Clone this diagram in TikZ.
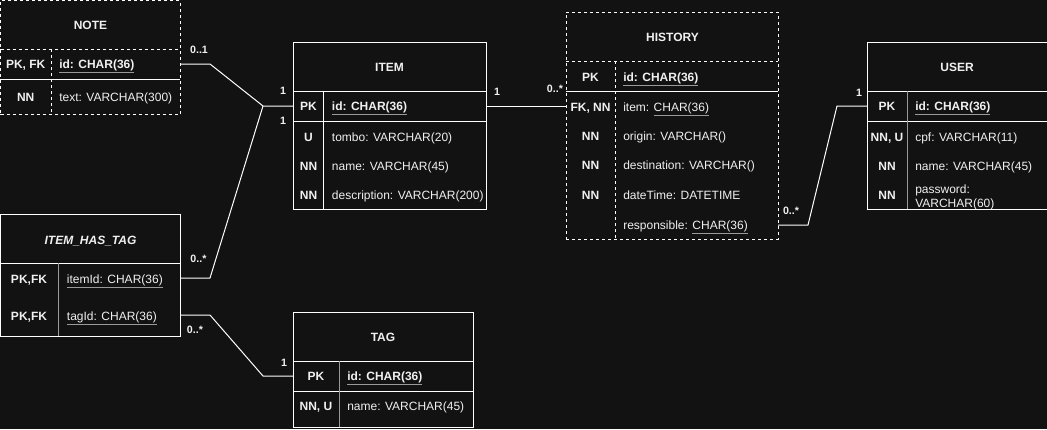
\documentclass[tikz,border=0pt]{standalone}
\usepackage{fontspec}
\setmainfont{Liberation Sans}
\usetikzlibrary{fit}
\definecolor{bg}{HTML}{121212}
\definecolor{fg}{HTML}{F0F0F0}
\definecolor{ln}{HTML}{FFFFFF}
\definecolor{lg}{HTML}{9A9A9A}
\definecolor{ulg}{HTML}{9A9A9A}
\newcommand\ulx[1]{\textcolor{ulg}{\underline{\textcolor{fg}{#1}}}}
\begin{document}
\begin{tikzpicture}[x=0.75pt,y=-0.75pt,
 txt/.style={text=fg, inner sep=0pt, text height=6.5pt, text depth=0pt, font=\fontsize{9}{11}\selectfont},
 ttl/.style={txt, font=\fontsize{9}{11}\selectfont\bfseries},
 keyc/.style={txt, font=\fontsize{9}{11}\selectfont\bfseries},
 fld/.style={txt, anchor=west},
 pkf/.style={fld, font=\fontsize{9}{11}\selectfont\bfseries},
 card/.style={txt, font=\fontsize{8}{10}\selectfont\bfseries, text height=5.8pt},
 tbl/.style={draw=ln, line width=0.75pt, inner sep=0pt, outer sep=0pt},
 dtbl/.style={tbl, dash pattern=on 2.25pt off 2.25pt},
 rowf/.style={inner sep=0pt, outer sep=0pt},
 hline/.style={draw=ln, line width=0.75pt},
 dline/.style={hline, dash pattern=on 2.25pt off 2.25pt},
 gline/.style={draw=lg, line width=0.75pt},
 conn/.style={draw=ln, line width=0.75pt}]
\fill[bg] (0,0) rectangle (1047,429);
\useasboundingbox (0,0) rectangle (1047,429);

% ---------- NOTE ----------
\node[dtbl, fit={(0.5,0.5)(180,114)}] (note) {};
\node[rowf, fit={(0.5,49)(180,79)}] (note-id) {};
\draw[dline] (0.5,49) -- (180,49);
\draw[hline] (0.5,79) -- (180,79);
\draw[dline] (51,49) -- (51,114);
\node[ttl] (note-t) at (90.5,25) {NOTE};
\node[keyc] (note-k1) at (25.7,64) {PK, FK};
\node[keyc] (note-k2) at (25.7,97) {NN};
\node[pkf] (note-f1) at (59,64) {\ulx{id: CHAR(36)}};
\node[fld] (note-f2) at (59,97) {text: VARCHAR(300)};

% ---------- ITEM ----------
\node[tbl, fit={(293,42)(486,209)}] (item) {};
\node[rowf, fit={(293,91)(486,121)}] (item-id) {};
\draw[hline] (293,91) -- (486,91);
\draw[hline] (293,121) -- (486,121);
\draw[hline] (323.7,91) -- (323.7,209);
\node[ttl] (item-t) at (389.5,67) {ITEM};
\node[keyc] (item-k1) at (308.5,106) {PK};
\node[keyc] (item-k2) at (308.5,137) {U};
\node[keyc] (item-k3) at (308.5,166) {NN};
\node[keyc] (item-k4) at (308.5,195) {NN};
\node[pkf] (item-f1) at (331.7,106) {\ulx{id: CHAR(36)}};
\node[fld] (item-f2) at (331.7,137) {tombo: VARCHAR(20)};
\node[fld] (item-f3) at (331.7,166) {name: VARCHAR(45)};
\node[fld] (item-f4) at (331.7,195) {description: VARCHAR(200)};

% ---------- HISTORY ----------
\node[dtbl, fit={(566,12)(778,239)}] (hist) {};
\node[rowf, fit={(566,91)(778,121)}] (hist-item) {};
\node[rowf, fit={(566,211)(778,239)}] (hist-resp) {};
\draw[dline] (566,61) -- (778,61);
\draw[hline] (566,91) -- (778,91);
\draw[dline] (615,61) -- (615,239);
\node[ttl] (hist-t) at (672.5,37) {HISTORY};
\node[keyc] (hist-k1) at (590.5,77) {PK};
\node[keyc] (hist-k2) at (590.5,107) {FK, NN};
\node[keyc] (hist-k3) at (590.5,136) {NN};
\node[keyc] (hist-k4) at (590.5,165) {NN};
\node[keyc] (hist-k5) at (590.5,195) {NN};
\node[pkf] (hist-f1) at (623,77) {\ulx{id: CHAR(36)}};
\node[fld] (hist-f2) at (623,107) {item: \ulx{CHAR(36)}};
\node[fld] (hist-f3) at (623,136) {origin: VARCHAR()};
\node[fld] (hist-f4) at (623,165) {destination: VARCHAR()};
\node[fld] (hist-f5) at (623,195) {dateTime: DATETIME};
\node[fld] (hist-f6) at (623,225) {responsible: \ulx{CHAR(36)}};

% ---------- USER ----------
\node[tbl, fit={(867,42)(1047.5,209)}] (user) {};
\node[rowf, fit={(867,91)(1047,121)}] (user-id) {};
\draw[hline] (867,91) -- (1047,91);
\draw[hline] (867,121) -- (1047,121);
\draw[gline] (907,91) -- (907,209);
\node[ttl] (user-t) at (957,67) {USER};
\node[keyc] (user-k1) at (887,106) {PK};
\node[keyc] (user-k2) at (887,137) {NN, U};
\node[keyc] (user-k3) at (887,166) {NN};
\node[keyc] (user-k4) at (887,195) {NN};
\node[pkf] (user-f1) at (915,106) {\ulx{id: CHAR(36)}};
\node[fld] (user-f2) at (915,137) {cpf: VARCHAR(11)};
\node[fld] (user-f3) at (915,166) {name: VARCHAR(45)};
\node[fld] (user-f4a) at (915,189.5) {password:};
\node[fld] (user-f4b) at (915,203) {VARCHAR(60)};

% ---------- ITEM_HAS_TAG ----------
\node[tbl, fit={(0.5,214)(180,336)}] (iht) {};
\node[rowf, fit={(0.5,263)(180,293)}] (iht-item) {};
\node[rowf, fit={(0.5,300)(180,330)}] (iht-tag) {};
\draw[hline] (0.5,263) -- (180,263);
\draw[gline] (58,263) -- (58,336);
\node[ttl, font=\fontsize{9}{11}\selectfont\bfseries\itshape] (iht-t) at (90.5,240) {ITEM\_HAS\_TAG};
\node[keyc] (iht-k1) at (29,279) {PK,FK};
\node[keyc] (iht-k2) at (29,316) {PK,FK};
\node[fld] (iht-f1) at (66.7,279) {\ulx{itemId: CHAR(36)}};
\node[fld] (iht-f2) at (66.7,316) {\ulx{tagId: CHAR(36)}};

% ---------- TAG ----------
\node[tbl, fit={(293,312)(473,427)}] (tag) {};
\node[rowf, fit={(293,361)(473,391)}] (tag-id) {};
\draw[hline] (293,361) -- (473,361);
\draw[hline] (293,391) -- (473,391);
\draw[gline] (339,361) -- (339,427);
\node[ttl] (tag-t) at (383,337) {TAG};
\node[keyc] (tag-k1) at (316,376) {PK};
\node[keyc] (tag-k2) at (316,406) {NN, U};
\node[pkf] (tag-f1) at (347,376) {\ulx{id: CHAR(36)}};
\node[fld] (tag-f2) at (347,406) {name: VARCHAR(45)};

% ---------- connectors ----------
\coordinate (j1) at (263,106);
\coordinate (j2) at (263,376);
\coordinate (j3) at (837,106);
\draw[conn] (note-id.east) -- ++(30,0) -- (j1) -- (item-id.west);
\draw[conn] (iht-item.east) -- ++(30,0) -- (j1);
\draw[conn] (iht-tag.east) -- ++(30,0) -- (j2) -- (tag-id.west);
\draw[conn] (item-id.east) -- (hist-item.west);
\draw[conn] (hist-resp.east) -- ++(30,0) -- (j3) -- (user-id.west);

% ---------- cardinalities ----------
\node[card] (c1) at (199,50) {0..1};
\node[card] (c2) at (283,91) {1};
\node[card] (c3) at (283,121) {1};
\node[card] (c4) at (497,92) {1};
\node[card] (c5) at (555,89) {0..*};
\node[card] (c6) at (791,211) {0..*};
\node[card] (c7) at (859,93) {1};
\node[card] (c8) at (198.5,259) {0..*};
\node[card] (c9) at (195,330) {0..*};
\node[card] (c10) at (284,363) {1};
\end{tikzpicture}
\end{document}
